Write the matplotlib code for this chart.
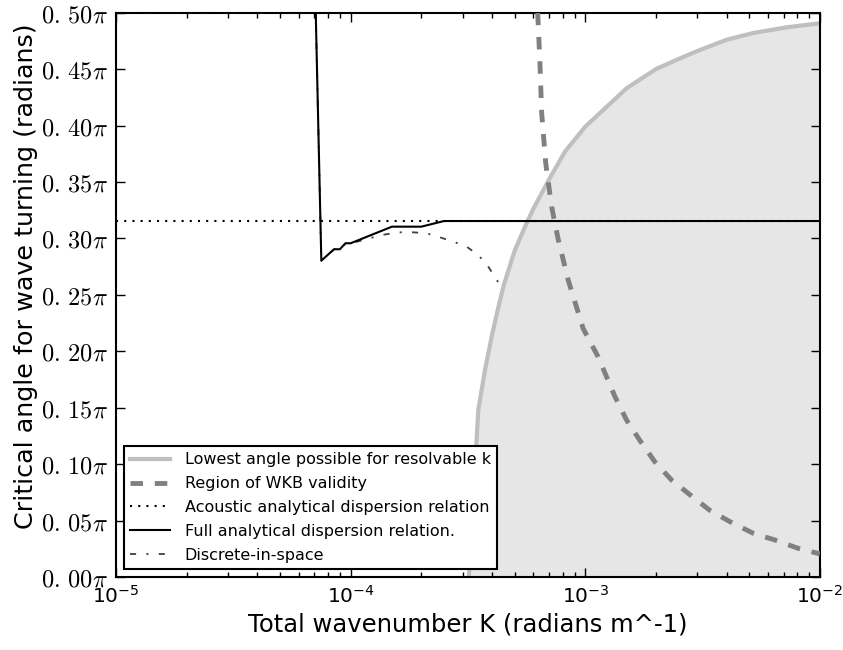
import numpy as np
import matplotlib
matplotlib.use('Agg')
import matplotlib.pyplot as plt

plt.rcParams['mathtext.fontset'] = 'cm'
plt.rcParams['xtick.direction'] = 'in'
plt.rcParams['ytick.direction'] = 'in'
plt.rcParams['xtick.top'] = True
plt.rcParams['ytick.right'] = True
plt.rcParams['lines.scale_dashes'] = False

# wavenumber K (radians m^-1) and critical angle (in units of pi)
k_lowest = [3.19e-4, 3.5e-4, 3.75e-4, 4.0e-4, 4.25e-4, 4.5e-4, 5.0e-4, 5.5e-4,
            6.0e-4, 7.0e-4, 8.2e-4, 1.0e-3, 1.5e-3, 2.0e-3, 2.5e-3, 3.0e-3,
            4.0e-3, 5.2e-3, 7.2e-3, 1.0e-2]
ang_lowest = [0.0, 0.148, 0.185, 0.214, 0.238, 0.259, 0.289, 0.309,
              0.326, 0.352, 0.377, 0.399, 0.433, 0.450, 0.459, 0.466,
              0.476, 0.482, 0.487, 0.4906]

k_wkb = [6.27e-4, 6.41e-4, 6.52e-4, 6.78e-4, 7.19e-4, 7.67e-4, 8.46e-4,
         9.8e-4, 1.135e-3, 1.337e-3, 1.5e-3, 1.709e-3, 1.98e-3, 2.33e-3,
         2.79e-3, 3.4e-3, 4.14e-3, 5.2e-3, 6.43e-3, 8.08e-3, 1.0e-2]
ang_wkb = [0.5, 0.455, 0.411, 0.367, 0.328, 0.299, 0.263,
           0.220, 0.195, 0.160, 0.139, 0.121, 0.102, 0.086,
           0.073, 0.059, 0.049, 0.0387, 0.0328, 0.0254, 0.0205]

k_acoustic = [1e-5, 1e-2]
ang_acoustic = [0.3154, 0.3154]

k_full = [1e-5, 7.1e-5, 7.5e-5, 8.5e-5, 9.0e-5, 9.5e-5, 1.0e-4, 1.5e-4,
          2.0e-4, 2.5e-4, 1e-2]
ang_full = [0.5, 0.5, 0.2803, 0.2904, 0.2904, 0.2957, 0.2957, 0.3104,
            0.3104, 0.3154, 0.3154]

k_disc = [1e-5, 7.1e-5, 7.5e-5, 8.5e-5, 9.0e-5, 9.5e-5, 1.026e-4, 1.356e-4,
          1.6e-4, 1.85e-4, 2.11e-4, 2.4e-4, 2.74e-4, 3.12e-4, 3.5e-4,
          3.86e-4, 4.16e-4, 4.4e-4]
ang_disc = [0.5, 0.5, 0.2803, 0.2904, 0.2904, 0.2950, 0.2962, 0.3030,
            0.3054, 0.3054, 0.3045, 0.3010, 0.2971, 0.2927, 0.2853,
            0.2749, 0.2647, 0.2558]

fig = plt.figure(figsize=(8.43, 6.5), dpi=100)
ax = fig.add_axes([0.1376, 0.1123, 0.835, 0.8682])

pi = np.pi
ax.fill_between(k_lowest, 0, np.array(ang_lowest) * pi, color='0.9', lw=0, zorder=1)
ax.plot(k_lowest, np.array(ang_lowest) * pi, color='0.75', lw=3,
        label='Lowest angle possible for resolvable k', zorder=2)
ax.plot(k_wkb, np.array(ang_wkb) * pi, color='0.5', lw=3.5, dashes=(9, 8.5),
        label='Region of WKB validity', zorder=6)
ax.plot(k_acoustic, np.array(ang_acoustic) * pi, color='k', lw=1.5,
        dashes=(1.5, 4.4), label='Acoustic analytical dispersion relation', zorder=4)
ax.plot(k_full, np.array(ang_full) * pi, color='k', lw=1.5,
        label='Full analytical dispersion relation.', zorder=5)
ax.plot(k_disc, np.array(ang_disc) * pi, color='0.25', lw=1.3,
        dashes=(4.4, 7.4, 1.5, 7.4), label='Discrete-in-space', zorder=3)

ax.set_xscale('log')
ax.set_xlim(1e-5, 1e-2)
ax.set_ylim(0, 0.5 * pi)

yt = np.arange(0, 51, 5)
ax.set_yticks(yt / 100 * pi)
ax.set_yticklabels([r'$0.\,%02d\pi$' % v for v in yt])

ax.tick_params(which='major', length=6.5, width=1, labelsize=14.5, pad=6)
ax.tick_params(axis='y', labelsize=17.5)
ax.tick_params(which='minor', length=3.5, width=1)
for s in ax.spines.values():
    s.set_linewidth(1.5)

ax.set_xlabel('Total wavenumber K (radians m^-1)', fontsize=17.5)
ax.set_ylabel('Critical angle for wave turning (radians)', fontsize=18.3)
ax.yaxis.set_label_coords(-0.111, 0.533)

leg = ax.legend(loc='lower left', fontsize=11.5, handlelength=2.5,
                handletextpad=0.9, labelspacing=0.55, borderaxespad=0.5,
                fancybox=False, framealpha=1)
leg.get_frame().set_edgecolor('k')
leg.get_frame().set_linewidth(1.5)

fig.savefig('out.png', dpi=100)
